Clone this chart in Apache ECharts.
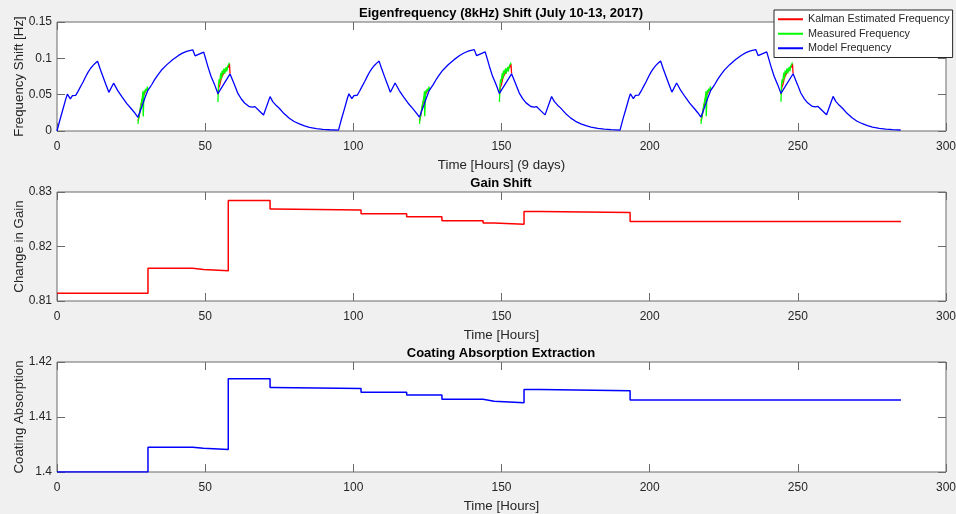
<!DOCTYPE html>
<html>
<head>
<meta charset="utf-8">
<script src="https://cdn.jsdelivr.net/npm/echarts@6/dist/echarts.min.js"></script>
<style>
  html, body { margin: 0; padding: 0; background: #f0f0f0; }
  #chart { width: 956px; height: 514px; }
</style>
</head>
<body>
<div id="chart"></div>
<script>
// ---------------- DATA ----------------
const xTicks = { min: 0, max: 300, interval: 50 };
const freqTicks = { min: 0, max: 0.15, interval: 0.05 };
const gainTicks = { min: 0.81, max: 0.83, interval: 0.01 };
const coatTicks = { min: 1.40, max: 1.42, interval: 0.01 };

const titles = [
  'Eigenfrequency (8kHz) Shift (July 10-13, 2017)',
  'Gain Shift',
  'Coating Absorption Extraction'
];
const xNames = ['Time [Hours] (9 days)', 'Time [Hours]', 'Time [Hours]'];
const yNames = ['Frequency Shift [Hz]', 'Change in Gain', 'Coating Absorption'];
const legendNames = ['Kalman Estimated Frequency', 'Measured Frequency', 'Model Frequency'];

// Model frequency [hour, Hz]
const modelFreq = [
  [0, 0], [1, 0.0155], [2, 0.0300], [3, 0.0445], [3.5, 0.0508], [4.5, 0.0442], [5.2, 0.0486], [6.3, 0.0490],
  [7.1, 0.0545], [8.0, 0.0615], [8.8, 0.0675], [9.7, 0.0750], [10.5, 0.0810], [11.3, 0.0860], [12.1, 0.0900],
  [12.9, 0.0932], [13.7, 0.0960], [14.6, 0.0850], [15.5, 0.0750], [16.5, 0.0640], [17.5, 0.0532], [19.1, 0.0658],
  [20.5, 0.0555], [22.0, 0.0465], [23.5, 0.0380], [25.0, 0.0310], [26.3, 0.0245], [27.3, 0.0189], [28.5, 0.0320],
  [29.7, 0.0460], [30.6, 0.0555], [31.0, 0.0568], [32.0, 0.0640], [33.0, 0.0710], [34.0, 0.0770], [35.2, 0.0835],
  [37.0, 0.0910], [39.0, 0.0980], [41.0, 0.1040], [42.5, 0.1075], [44.0, 0.1100], [45.8, 0.1118], [46.6, 0.1035],
  [49.5, 0.1086], [50.2, 0.0990], [50.9, 0.0890], [52.0, 0.0750], [53.2, 0.0635], [54.3, 0.0515], [58.4, 0.0785],
  [59.9, 0.0635], [61.0, 0.0520], [62.2, 0.0440], [63.3, 0.0385], [64.9, 0.0335], [66.0, 0.0328], [66.8, 0.0335],
  [68.3, 0.0275], [69.7, 0.0220], [71.9, 0.0473], [72.8, 0.0405], [74.0, 0.0350], [75.0, 0.0313], [76.6, 0.0240],
  [78.4, 0.0175], [80.0, 0.0131], [81.8, 0.0097], [83.5, 0.0071], [85.2, 0.0051], [87.5, 0.0034], [89.7, 0.0023],
  [92.0, 0.0017], [95.0, 0.0012],
  [96.0, 0.0165], [97.0, 0.0305], [98.0, 0.0450], [98.5, 0.0512], [99.5, 0.0445], [100.2, 0.0488], [101.3, 0.0492],
  [102.1, 0.0547], [103.0, 0.0617], [103.8, 0.0677], [104.7, 0.0752], [105.5, 0.0812], [106.3, 0.0862], [107.1, 0.0902],
  [107.9, 0.0934], [108.7, 0.0962], [109.6, 0.0852], [110.5, 0.0752], [111.5, 0.0642], [112.5, 0.0534], [114.1, 0.0660],
  [115.5, 0.0557], [117.0, 0.0467], [118.5, 0.0382], [120.0, 0.0312], [121.3, 0.0247], [122.3, 0.0191], [123.5, 0.0322],
  [124.7, 0.0462], [125.6, 0.0557], [126.0, 0.0570], [127.0, 0.0642], [128.0, 0.0712], [129.0, 0.0772], [130.2, 0.0837],
  [132.0, 0.0912], [134.0, 0.0982], [136.0, 0.1042], [137.5, 0.1077], [139.0, 0.1102], [140.8, 0.1120], [141.6, 0.1037],
  [144.5, 0.1088], [145.2, 0.0992], [145.9, 0.0892], [147.0, 0.0752], [148.2, 0.0637], [149.3, 0.0517], [153.4, 0.0787],
  [154.9, 0.0637], [156.0, 0.0522], [157.2, 0.0442], [158.3, 0.0387], [159.9, 0.0337], [161.0, 0.0330], [161.8, 0.0337],
  [163.3, 0.0277], [164.7, 0.0222], [166.9, 0.0475], [167.8, 0.0407], [169.0, 0.0352], [170.0, 0.0315], [171.6, 0.0242],
  [173.4, 0.0177], [175.0, 0.0133], [176.8, 0.0099], [178.5, 0.0073], [180.2, 0.0053], [182.5, 0.0036], [184.7, 0.0025],
  [187.0, 0.0019], [190.0, 0.0013],
  [191.0, 0.0166], [192.0, 0.0306], [193.0, 0.0451], [193.5, 0.0513], [194.5, 0.0446], [195.2, 0.0489], [196.3, 0.0493],
  [197.1, 0.0548], [198.0, 0.0618], [198.8, 0.0678], [199.7, 0.0753], [200.5, 0.0813], [201.3, 0.0863], [202.1, 0.0903],
  [202.9, 0.0935], [203.7, 0.0963], [204.6, 0.0853], [205.5, 0.0753], [206.5, 0.0643], [207.5, 0.0535], [209.1, 0.0661],
  [210.5, 0.0558], [212.0, 0.0468], [213.5, 0.0383], [215.0, 0.0313], [216.3, 0.0248], [217.3, 0.0192], [218.5, 0.0323],
  [219.7, 0.0463], [220.6, 0.0558], [221.0, 0.0571], [222.0, 0.0643], [223.0, 0.0713], [224.0, 0.0773], [225.2, 0.0838],
  [227.0, 0.0913], [229.0, 0.0983], [231.0, 0.1043], [232.5, 0.1078], [234.0, 0.1103], [235.8, 0.1121], [236.6, 0.1038],
  [239.5, 0.1089], [240.2, 0.0993], [240.9, 0.0893], [242.0, 0.0753], [243.2, 0.0638], [244.3, 0.0518], [248.4, 0.0788],
  [249.9, 0.0638], [251.0, 0.0523], [252.2, 0.0443], [253.3, 0.0388], [254.9, 0.0338], [256.0, 0.0331], [256.8, 0.0338],
  [258.3, 0.0278], [259.7, 0.0223], [261.9, 0.0476], [262.8, 0.0408], [264.0, 0.0353], [265.0, 0.0316], [266.6, 0.0243],
  [268.4, 0.0178], [270.0, 0.0134], [271.8, 0.0100], [273.5, 0.0074], [275.2, 0.0054], [277.5, 0.0037], [279.7, 0.0026],
  [282.0, 0.0019], [284.7, 0.0014]
];

// Measured frequency [hour, Hz]; '-' marks a gap between measurement windows
const measuredFreq = [
  [27.3, 0.0097], [27.5, 0.0160], [27.7, 0.0210], [27.9, 0.0250], [28.1, 0.0310], [28.3, 0.0360], [28.5, 0.0400],
  [28.7, 0.0440], [28.9, 0.0500], [29.0, 0.0545], [29.1, 0.0200], [29.2, 0.0300], [29.3, 0.0490], [29.5, 0.0560],
  [29.7, 0.0530], [29.9, 0.0580], [30.1, 0.0600], [30.3, 0.0550], [30.5, 0.0610], [30.7, 0.0570], [42, '-'],
  [54.3, 0.0400], [54.4, 0.0520], [54.5, 0.0640], [54.7, 0.0710], [54.9, 0.0660], [55.1, 0.0750], [55.3, 0.0800],
  [55.5, 0.0720], [55.7, 0.0830], [55.9, 0.0780], [56.1, 0.0820], [56.4, 0.0860], [56.6, 0.0790], [56.9, 0.0850],
  [57.1, 0.0880], [57.3, 0.0820], [57.6, 0.0890], [57.8, 0.0910], [58.0, 0.0870], [58.2, 0.0940], [90, '-'],
  [122.3, 0.0098], [122.5, 0.0160], [122.7, 0.0212], [122.9, 0.0252], [123.1, 0.0311], [123.3, 0.0362], [123.5, 0.0401],
  [123.7, 0.0442], [123.9, 0.0501], [124.0, 0.0546], [124.1, 0.0202], [124.2, 0.0302], [124.3, 0.0491], [124.5, 0.0561],
  [124.7, 0.0532], [124.9, 0.0581], [125.1, 0.0601], [125.3, 0.0552], [125.5, 0.0611], [125.7, 0.0571], [137, '-'],
  [149.3, 0.0401], [149.4, 0.0521], [149.5, 0.0641], [149.7, 0.0711], [149.9, 0.0661], [150.1, 0.0751], [150.3, 0.0801],
  [150.5, 0.0721], [150.7, 0.0831], [150.9, 0.0781], [151.1, 0.0821], [151.4, 0.0861], [151.6, 0.0791], [151.9, 0.0851],
  [152.1, 0.0881], [152.3, 0.0821], [152.6, 0.0891], [152.8, 0.0911], [153.0, 0.0871], [153.2, 0.0941], [185, '-'],
  [217.3, 0.0099], [217.5, 0.0161], [217.7, 0.0213], [217.9, 0.0253], [218.1, 0.0312], [218.3, 0.0363], [218.5, 0.0402],
  [218.7, 0.0443], [218.9, 0.0502], [219.0, 0.0547], [219.1, 0.0203], [219.2, 0.0303], [219.3, 0.0492], [219.5, 0.0562],
  [219.7, 0.0533], [219.9, 0.0582], [220.1, 0.0602], [220.3, 0.0553], [220.5, 0.0612], [220.7, 0.0572], [232, '-'],
  [244.3, 0.0402], [244.4, 0.0522], [244.5, 0.0642], [244.7, 0.0712], [244.9, 0.0662], [245.1, 0.0752], [245.3, 0.0802],
  [245.5, 0.0722], [245.7, 0.0832], [245.9, 0.0782], [246.1, 0.0822], [246.4, 0.0862], [246.6, 0.0792], [246.9, 0.0852],
  [247.1, 0.0882], [247.3, 0.0822], [247.6, 0.0892], [247.8, 0.0912], [248.0, 0.0872], [248.2, 0.0942]
];

// Kalman estimated frequency [hour, Hz]
const kalmanFreq = [
  [27.3, 0.0140], [27.7, 0.0200], [28.1, 0.0300], [28.5, 0.0380], [28.9, 0.0460], [29.3, 0.0480], [29.7, 0.0530],
  [30.1, 0.0560], [30.5, 0.0580], [30.9, 0.0575], [42, '-'],
  [54.3, 0.0500], [54.6, 0.0600], [55.0, 0.0640], [55.4, 0.0720], [55.8, 0.0760], [56.2, 0.0790], [56.6, 0.0800],
  [57.0, 0.0840], [57.4, 0.0850], [57.8, 0.0880], [58.2, 0.0920], [58.4, 0.0790], [90, '-'],
  [122.3, 0.0141], [122.7, 0.0201], [123.1, 0.0301], [123.5, 0.0381], [123.9, 0.0461], [124.3, 0.0481], [124.7, 0.0531],
  [125.1, 0.0561], [125.5, 0.0581], [125.9, 0.0576], [137, '-'],
  [149.3, 0.0501], [149.6, 0.0601], [150.0, 0.0641], [150.4, 0.0721], [150.8, 0.0761], [151.2, 0.0791], [151.6, 0.0801],
  [152.0, 0.0841], [152.4, 0.0851], [152.8, 0.0881], [153.2, 0.0921], [153.4, 0.0791], [185, '-'],
  [217.3, 0.0142], [217.7, 0.0202], [218.1, 0.0302], [218.5, 0.0382], [218.9, 0.0462], [219.3, 0.0482], [219.7, 0.0532],
  [220.1, 0.0562], [220.5, 0.0582], [220.9, 0.0577], [232, '-'],
  [244.3, 0.0502], [244.6, 0.0602], [245.0, 0.0642], [245.4, 0.0722], [245.8, 0.0762], [246.2, 0.0792], [246.6, 0.0802],
  [247.0, 0.0842], [247.4, 0.0852], [247.8, 0.0882], [248.2, 0.0922], [248.4, 0.0792]
];

// Gain shift steps [hour, gain] (value holds until next hour)
const gainSteps = [
  [0, 0.8114], [30.7, 0.8160], [45.8, 0.81580], [49.4, 0.81555], [57.8, 0.82846], [71.9, 0.82688],
  [72.8, 0.82668], [102.6, 0.82602], [118.0, 0.82547], [129.9, 0.82473], [143.8, 0.82431], [147.5, 0.82410],
  [157.6, 0.82644], [163.0, 0.82623], [193.4, 0.82461], [284.8, 0.82461]
];

// Coating absorption steps [hour, absorption]
const coatSteps = [
  [0, 1.4000], [30.7, 1.40452], [45.8, 1.40432], [49.4, 1.40410], [57.8, 1.41695], [71.9, 1.41536],
  [72.8, 1.41516], [102.6, 1.41451], [118.0, 1.41402], [129.9, 1.41323], [143.8, 1.41287], [147.5, 1.41261],
  [157.6, 1.41499], [163.0, 1.41478], [193.4, 1.41311], [284.8, 1.41311]
];

// ---------------- CHART ----------------
const FONT = '"Liberation Sans", Arial, Helvetica, sans-serif';
const BOX = '#6b6b6b';
const TXT = '#262626';
const grids = [
  { left: 57, right: 10, top: 22, height: 109 },
  { left: 57, right: 10, top: 192, height: 109 },
  { left: 57, right: 10, top: 362, height: 110 }
];
const yTicks = [freqTicks, gainTicks, coatTicks];
const titleTops = [6.5, 176.5, 346.5];

const xAxes = [], yAxes = [];
for (let i = 0; i < 3; i++) {
  const tick = { inside: true, length: 8, lineStyle: { color: BOX, width: 1 } };
  xAxes.push({
    type: 'value', gridIndex: i, position: 'bottom', min: xTicks.min, max: xTicks.max, interval: xTicks.interval,
    axisLine: { show: false, onZero: false }, splitLine: { show: false }, axisTick: tick,
    axisLabel: { fontSize: 12, color: TXT, margin: 10, fontFamily: FONT, showMinLabel: true, showMaxLabel: true },
    name: xNames[i], nameLocation: 'middle', nameGap: 27.5, nameMoveOverlap: false,
    nameTextStyle: { fontSize: 13.3, color: TXT, fontFamily: FONT }
  });
  xAxes.push({
    type: 'value', gridIndex: i, position: 'top', min: xTicks.min, max: xTicks.max, interval: xTicks.interval,
    axisLine: { show: false, onZero: false }, splitLine: { show: false }, axisTick: tick,
    axisLabel: { show: false }
  });
  yAxes.push({
    type: 'value', gridIndex: i, position: 'left', min: yTicks[i].min, max: yTicks[i].max, interval: yTicks[i].interval,
    axisLine: { show: false, onZero: false }, splitLine: { show: false }, axisTick: tick,
    axisLabel: { fontSize: 12, color: TXT, margin: 5, fontFamily: FONT, showMinLabel: true, showMaxLabel: true },
    name: yNames[i], nameLocation: 'middle', nameRotate: 90, nameGap: 31, nameMoveOverlap: false,
    nameTextStyle: { fontSize: 13.3, color: TXT, fontFamily: FONT }
  });
  yAxes.push({
    type: 'value', gridIndex: i, position: 'right', min: yTicks[i].min, max: yTicks[i].max, interval: yTicks[i].interval,
    axisLine: { show: false, onZero: false }, splitLine: { show: false }, axisTick: tick,
    axisLabel: { show: false }
  });
}

const chart = echarts.init(document.getElementById('chart'), null, { renderer: 'canvas' });
chart.setOption({
  animation: false,
  backgroundColor: '#f0f0f0',
  textStyle: { fontFamily: FONT },
  title: titles.map((t, i) => ({
    text: t, left: 501, top: titleTops[i], textAlign: 'center', padding: 0,
    textStyle: { fontSize: 13, fontWeight: 'bold', color: '#000', fontFamily: FONT }
  })),
  legend: {
    orient: 'vertical', left: 774, top: 10, padding: [2, 3, 2, 4], itemGap: 0,
    itemWidth: 25, itemHeight: 2, icon: 'rect',
    backgroundColor: '#ffffff', borderColor: '#262626', borderWidth: 1, borderRadius: 0,
    textStyle: { fontSize: 10.8, color: TXT, fontFamily: FONT, lineHeight: 14.5 },
    data: legendNames
  },
  grid: grids.map(g => Object.assign({ show: true, backgroundColor: '#ffffff', borderColor: BOX, borderWidth: 1,
    containLabel: false, outerBoundsMode: 'none' }, g)),
  xAxis: xAxes,
  yAxis: yAxes,
  series: [
    { name: legendNames[0], type: 'line', xAxisIndex: 0, yAxisIndex: 0, data: kalmanFreq, symbol: 'none',
      connectNulls: false, lineStyle: { color: '#ff0000', width: 1.3 }, itemStyle: { color: '#ff0000' } },
    { name: legendNames[1], type: 'line', xAxisIndex: 0, yAxisIndex: 0, data: measuredFreq, symbol: 'none',
      connectNulls: false, lineStyle: { color: '#00ff00', width: 1.3 }, itemStyle: { color: '#00ff00' } },
    { name: legendNames[2], type: 'line', xAxisIndex: 0, yAxisIndex: 0, data: modelFreq, symbol: 'none',
      lineStyle: { color: '#0000ff', width: 1.3 }, itemStyle: { color: '#0000ff' } },
    { name: 'Gain', type: 'line', xAxisIndex: 2, yAxisIndex: 2, data: gainSteps, step: 'end', symbol: 'none',
      lineStyle: { color: '#ff0000', width: 1.5 }, itemStyle: { color: '#ff0000' } },
    { name: 'Coating', type: 'line', xAxisIndex: 4, yAxisIndex: 4, data: coatSteps, step: 'end', symbol: 'none',
      lineStyle: { color: '#0000ff', width: 1.5 }, itemStyle: { color: '#0000ff' } }
  ]
});
</script>
</body>
</html>
